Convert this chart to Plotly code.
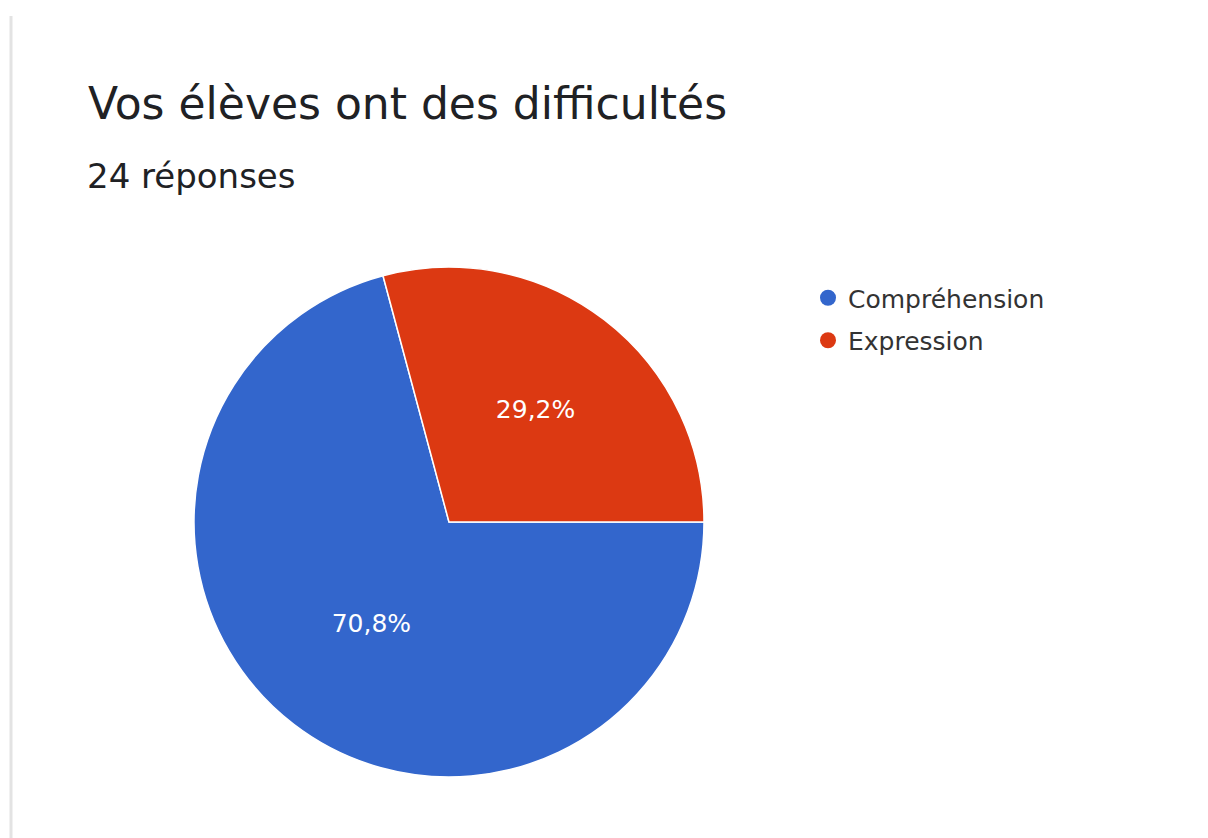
import plotly.graph_objects as go

title_text = "Vos élèves ont des difficultés"
subtitle_text = "24 réponses"
labels = ["Compréhension", "Expression"]
values = [17, 7]
colors = ["#3366cc", "#dc3912"]

W, H = 1208, 838
OFF = 8  # page body margin
cx, cy, r = 449 - OFF, 522 - OFF, 255

fig = go.Figure()
fig.add_trace(go.Pie(
    labels=labels, values=values, sort=False, direction="clockwise", rotation=90,
    marker=dict(colors=colors, line=dict(color="white", width=1.5)),
    texttemplate="%{percent:.1%}", textposition="inside",
    insidetextfont=dict(color="white", size=25, family="DejaVu Sans"),
    showlegend=False, hoverinfo="label+percent",
    domain=dict(x=[(cx - r) / W, (cx + r) / W], y=[(H - cy - r) / H, (H - cy + r) / H]),
))
for i, (lab, col) in enumerate(zip(labels, colors)):
    fig.add_trace(go.Scatter(x=[None], y=[None], mode="markers", name=lab,
                             legendgroup=f"g{i}",
                             marker=dict(color=col, size=22, symbol="circle")))

# faint left edge of the card
fig.add_shape(type="line", xref="paper", yref="paper",
              x0=(11 - OFF) / W, x1=(11 - OFF) / W, y0=-0.05, y1=1 - (16 - OFF) / H,
              line=dict(color="#e3e3e3", width=3), layer="below")

fig.update_layout(
    width=W, height=H, margin=dict(l=0, r=0, t=0, b=0),
    paper_bgcolor="white", plot_bgcolor="white",
    separators=", ",
    font=dict(family="DejaVu Sans", color="#202124"),
    xaxis=dict(visible=False), yaxis=dict(visible=False),
    legend=dict(x=(848 - 40 - OFF) / W, y=1 - (275 - OFF) / H, xanchor="left", yanchor="top",
                font=dict(size=25, family="DejaVu Sans", color="#333333"),
                bgcolor="rgba(0,0,0,0)", itemsizing="trace",
                traceorder="grouped", tracegroupgap=7),
    annotations=[
        dict(text=title_text, xref="paper", yref="paper", x=(88 - 2 - OFF) / W, y=1 - 68 / H,
             xanchor="left", yanchor="top", showarrow=False,
             font=dict(size=44, family="DejaVu Sans", color="#202124")),
        dict(text=subtitle_text, xref="paper", yref="paper", x=(88 - 3 - OFF) / W, y=1 - 146 / H,
             xanchor="left", yanchor="top", showarrow=False,
             font=dict(size=34, family="DejaVu Sans", color="#202124")),
    ],
)
fig.write_html("out.html")
